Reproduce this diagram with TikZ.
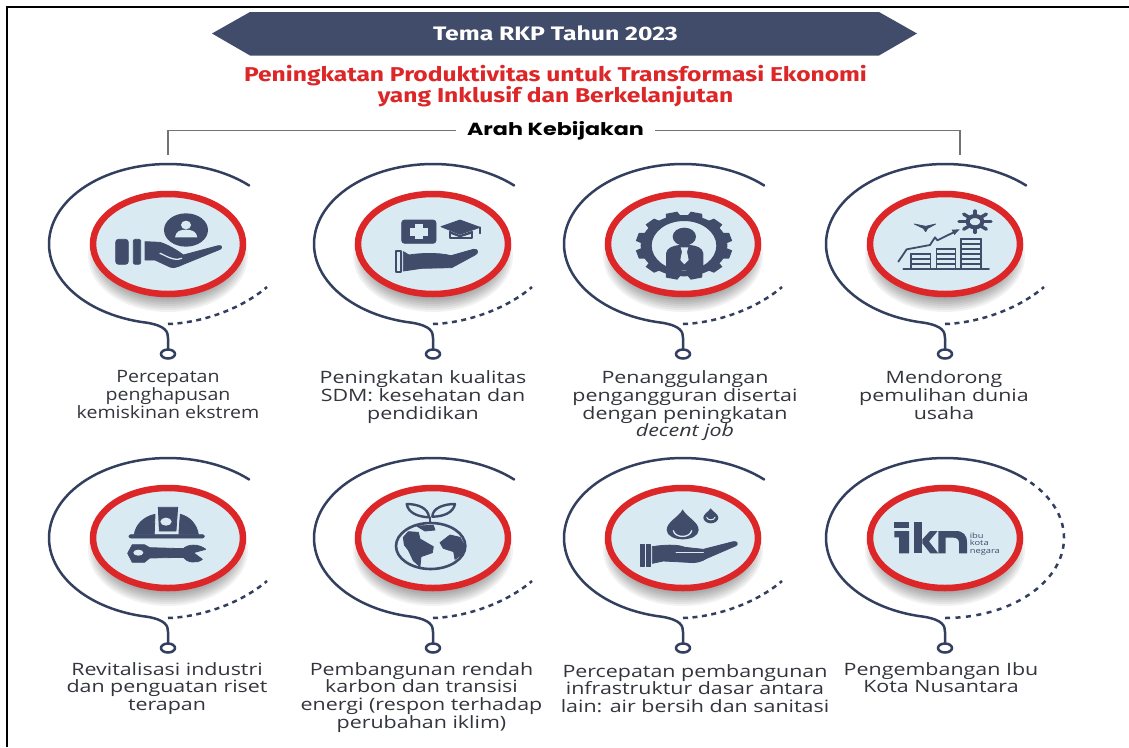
\documentclass[tikz,border=0pt]{standalone}
\usepackage{fontspec}
\setmainfont{Open Sans}[FakeStretch=1.26]
\newfontfamily\headfont{Fira Sans}[FakeStretch=1.23]
\newfontfamily\temafont{Fira Sans}[FakeStretch=1.27]
\newfontfamily\arahfont{Poppins}[FakeStretch=1.27]
\newfontfamily\narrowfont{Open Sans}[FakeStretch=1.15]
\usetikzlibrary{shapes.geometric}
\definecolor{navy}{HTML}{414C6B}
\definecolor{arcnavy}{HTML}{333F5E}
\definecolor{kbred}{HTML}{DC2627}
\definecolor{pale}{HTML}{DAEAF2}
\definecolor{bodytxt}{HTML}{33353D}
\tikzset{
  x=1pt,y=-1pt,
  disc/.style={ellipse,draw=kbred,line width=6.5pt,fill=pale,minimum width=150pt,minimum height=100pt,inner sep=0pt},
  pin/.style={ellipse,draw=arcnavy,line width=2.5pt,fill=white,minimum width=14pt,minimum height=9pt,inner sep=0pt},
  spiral/.style={draw=arcnavy,line width=2.5pt,line cap=round},
  dots/.style={draw=arcnavy,line width=2.5pt,dash pattern=on 5pt off 4.5pt},
  caption/.style={anchor=north,align=center,text=bodytxt,font=\fontsize{17}{17.7}\selectfont,inner sep=0pt},
  ink/.style={fill=navy,draw=navy,line width=0.8pt,line join=round},
  inkline/.style={draw=navy,line width=1.8pt,line cap=round,line join=round},
  paper/.style={fill=pale},
  paperline/.style={draw=pale,line width=1.3pt,line cap=round},
  leader/.style={draw=black!55,line width=1.4pt},
  icon/.style={shift={#1},scale=1/3},
}
\newcommand{\kbshadow}[2]{%
  \foreach \i in {0,...,13}{\fill[black,opacity=0.05] (#1,#2+12) ellipse[x radius={80-2*\i},y radius={56-2*\i}];}}
\newcommand{\kbunit}[3]{%
  \kbshadow{#2}{#3}
  \node[disc] (#1) at (#2,#3) {};
  \node[pin] (#1p) at (#2,#3+110) {};
  \coordinate (#1d) at (#2,#3+80);
  \draw[spiral] plot[domain=47:260,samples=70] ({#2+119*cos(\x)},{#3-80*sin(\x)})
    .. controls (#2-2,#3+82) and (#2,#3+88) .. (#2,#3+94) -- (#1p.north);
}
\newcommand{\kbtail}[3]{%
  \draw[dots] (#1d) .. controls (#2+32,#3+79) and (#2+72,#3+66) .. (#2+99,#3+43);
}
\begin{document}
\begin{tikzpicture}
\useasboundingbox (0,0) rectangle (1129,747);
\fill[white] (0,0) rectangle (1129,747);
\coordinate (fa) at (7,747); \coordinate (fb) at (7,7); \coordinate (fc) at (1129,7);
\draw[black,line width=1.5pt] (fa) -- (fb) -- (fc);
\fill[navy] (212,33.5) -- (250,12) -- (879,12) -- (917,33.5) -- (879,55.5) -- (250,55.5) -- cycle;
\node[text=white,font=\temafont\bfseries\fontsize{19.5}{20}\selectfont,inner sep=0pt] (tema) at (555.5,33.5) {Tema RKP Tahun 2023};
\node[text=kbred,align=center,font=\headfont\bfseries\fontsize{20}{20.5}\selectfont,inner sep=0pt] (judul) at (555.5,86) {Peningkatan Produktivitas untuk Transformasi Ekonomi\\yang Inklusif dan Berkelanjutan};
\node[font=\arahfont\bfseries\fontsize{17.5}{18}\selectfont,inner xsep=11pt,inner ysep=0pt] (arah) at (555.5,130.5) {Arah Kebijakan};
\coordinate (la) at (168,155); \coordinate (lb) at (960,155);
\draw[leader] (arah.west) -| (la);
\draw[leader] (arah.east) -| (lb);
\kbunit{a}{168}{244}\kbunit{b}{433}{244}\kbunit{c}{683}{244}\kbunit{d}{945}{244}
\kbunit{e}{168}{538}\kbunit{f}{433}{538}\kbunit{g}{683}{538}\kbunit{h}{945}{538}
\kbtail{a}{168}{244}\kbtail{b}{433}{244}\kbtail{c}{683}{244}\kbtail{d}{945}{244}
\kbtail{e}{168}{538}\kbtail{f}{433}{538}\kbtail{g}{683}{538}
\draw[dots,dash pattern=on 5pt off 5.5pt] plot[domain=-90:45,samples=70] ({945+119*cos(\x)},{538-80*sin(\x)});
\node[caption,font=\narrowfont\fontsize{17}{17.7}\selectfont] (ta) at (168,370.5) {Percepatan\\penghapusan\\kemiskinan ekstrem};
\node[caption] (tb) at (423,370.5) {Peningkatan kualitas\\SDM: kesehatan dan\\pendidikan};
\node[caption] (tc) at (685,370.5) {Penanggulangan\\pengangguran disertai\\dengan peningkatan\\\textit{decent job}};
\node[caption] (td) at (944,370.5) {Mendorong\\pemulihan dunia\\usaha};
\node[caption] (te) at (167,662) {Revitalisasi industri\\dan penguatan riset\\terapan};
\node[caption] (tf) at (421.5,662) {Pembangunan rendah\\karbon dan transisi\\energi (respon terhadap\\perubahan iklim)};
\node[caption] (tg) at (695,664) {Percepatan pembangunan\\infrastruktur dasar antara\\lain: air bersih dan sanitasi};
\node[caption] (th) at (941,662) {Pengembangan Ibu\\Kota Nusantara};
% icon 1
\begin{scope}[icon={(105,205)}]
  \fill[navy] (243,75) ellipse[x radius=66,y radius=50];
  \fill[paper] (243,60) ellipse[x radius=15,y radius=13];
  \fill[paper] (210,97) .. controls (212,78) and (228,74) .. (243,74) .. controls (258,74) and (275,78) .. (277,97) -- cycle;
  \fill[ink,rounded corners=3pt] (32,103) rectangle (70,178);
  \fill[ink,rounded corners=2pt] (85,103) rectangle (107,178);
  \fill[ink] (120,110) -- (165,112) .. controls (190,120) and (215,135) .. (235,150) -- (340,122) .. controls (352,120) and (352,130) .. (345,133) -- (235,178) .. controls (215,187) and (205,190) .. (195,186) -- (150,165) -- (120,165) -- cycle;
  \draw[paperline] (165,145) .. controls (180,150) and (205,170) .. (230,160);
\end{scope}
% icon 2
\begin{scope}[icon={(375,205)}]
  \fill[ink,rounded corners=3pt] (80,45) rectangle (183,115);
  \fill[paper] (105,68) rectangle (158,92);
  \fill[paper] (119,57) rectangle (143,103);
  \fill[ink] (198,65) -- (255,45) -- (315,67) -- (255,88) -- cycle;
  \draw[inkline] (225,80) -- (225,99) -- (290,99) -- (290,80);
  \fill[navy] (225,78) -- (255,90) -- (290,78) -- (290,86) -- (255,97) -- (225,86) -- cycle;
  \draw[inkline] (315,67) -- (315,85);
  \draw[inkline] (64,138) -- (64,200) -- (78,200) -- (78,138) -- cycle;
  \fill[ink] (85,140) -- (102,150) .. controls (130,145) and (190,142) .. (228,152) -- (295,133) .. controls (310,130) and (312,145) .. (300,150) -- (230,188) -- (140,190) -- (85,198) -- cycle;
\end{scope}
% icon 3
\begin{scope}[icon={(620,205)}]
  \fill[navy,even odd rule] (192,122) ellipse[x radius=130,y radius=92] (192,122) ellipse[x radius=97,y radius=74];
  \foreach \a in {15,45,...,345}{
    \fill[navy] ({192+125*cos(\a-11)},{122+88*sin(\a-11)}) -- ({192+146*cos(\a-7)},{122+103*sin(\a-7)}) -- ({192+146*cos(\a+7)},{122+103*sin(\a+7)}) -- ({192+125*cos(\a+11)},{122+88*sin(\a+11)}) -- cycle;
  }
  \fill[navy] (193,95) ellipse[x radius=35,y radius=27];
  \fill[navy] (138,195) -- (138,145) .. controls (140,128) and (160,122) .. (178,120) -- (210,120) .. controls (230,122) and (248,128) .. (250,145) -- (250,195) -- cycle;
  \fill[paper] (182,127) -- (205,127) -- (201,140) -- (206,165) -- (193,178) -- (181,165) -- (186,140) -- cycle;
\end{scope}
% icon 4
\begin{scope}[icon={(885,205)}]
  \draw[navy,line width=4pt] (270,50) ellipse[x radius=22,y radius=17];
  \foreach \a in {0,45,...,315}{
    \draw[navy,line width=3.4pt,line cap=round] ({270+24*cos(\a)},{50+18*sin(\a)}) -- ({270+48*cos(\a)},{50+32*sin(\a)});
  }
  \fill[ink] (88,57) -- (122,64) -- (152,57) -- (128,70) -- (122,80) -- (115,70) -- cycle;
  \draw[inkline] (40,170) -- (65,133) -- (135,120) -- (150,97) -- (157,106) -- (210,80);
  \fill[navy] (224,73) -- (200,74) -- (208,90) -- cycle;
  \draw[inkline] (55,192) -- (312,192);
  \foreach \l/\r/\t in {78/137/145,155/212/130,228/288/100}{
    \draw[inkline,line width=1.4pt] (\l,192) -- (\l,\t) -- (\r,\t) -- (\r,192);
    \fill[navy] (\l,\t) rectangle (\r,\t+6);
    \foreach \yy in {15,30,45,60,75}{
      \pgfmathparse{\t+\yy<185?1:0}
      \ifnum\pgfmathresult=1 \fill[navy] (\l,\t+\yy) rectangle (\r,\t+\yy+6);\fi
    }
  }
\end{scope}
% icon 5
\begin{scope}[icon={(105,500)}]
  \fill[ink] (88,103) .. controls (92,75) and (115,50) .. (150,43) -- (148,95) -- (148,103) -- cycle;
  \fill[ink] (280,103) .. controls (276,75) and (255,50) .. (226,43) -- (222,95) -- (222,103) -- cycle;
  \fill[ink] (160,22) -- (218,22) -- (213,93) -- (163,93) -- cycle;
  \fill[paper] (183,65) ellipse[x radius=17,y radius=12];
  \fill[ink,rounded corners=2pt] (72,104) rectangle (298,114);
  \fill[ink] (82,134) -- (118,134) -- (134,143) -- (235,146) .. controls (248,133) and (280,130) .. (302,148) -- (265,158) -- (292,178) .. controls (275,192) and (245,187) .. (235,172) -- (134,174) -- (118,187) -- (82,187) -- (68,160) -- cycle;
  \fill[paper] (100,158) ellipse[x radius=15,y radius=9];
\end{scope}
% icon 6
\begin{scope}[icon={(375,500)}]
  \draw[navy,line width=2.6pt] (167,138) ellipse[x radius=104,y radius=69];
  \fill[ink] (85,112) -- (100,95) -- (130,97) -- (135,117) -- (175,140) -- (172,158) -- (138,170) -- (135,200) -- (115,182) -- (100,150) -- (88,135) -- cycle;
  \fill[ink] (125,78) -- (175,76) -- (180,90) -- (150,93) -- cycle;
  \fill[ink] (195,128) -- (225,105) -- (255,112) -- (268,135) -- (265,160) -- (240,178) -- (236,155) -- (205,145) -- cycle;
  \draw[navy,line width=2.4pt,line join=round] (162,52) .. controls (130,50) and (100,40) .. (95,12) .. controls (130,12) and (160,25) .. (162,52) -- cycle;
  \draw[navy,line width=2.4pt,line join=round] (172,50) .. controls (172,25) and (205,12) .. (240,12) .. controls (235,38) and (205,50) .. (172,50) -- cycle;
  \draw[inkline] (166,52) -- (166,68);
\end{scope}
% icon 7
\begin{scope}[icon={(620,500)}]
  \fill[navy] (188,28) .. controls (178,50) and (140,65) .. (140,90) .. controls (140,108) and (165,118) .. (188,118) .. controls (212,118) and (236,108) .. (236,90) .. controls (236,65) and (198,50) .. (188,28) -- cycle;
  \draw[paperline] (160,92) .. controls (165,115) and (210,115) .. (215,92);
  \fill[navy] (272,25) .. controls (266,35) and (250,42) .. (250,53) .. controls (250,63) and (262,70) .. (272,70) .. controls (284,70) and (295,63) .. (295,53) .. controls (295,42) and (278,35) .. (272,25) -- cycle;
  \draw[paperline,line width=1pt] (260,52) .. controls (263,62) and (282,62) .. (285,52);
  \fill[ink] (60,132) rectangle (72,198);
  \fill[ink] (80,132) rectangle (90,198);
  \fill[ink] (97,140) .. controls (130,135) and (170,132) .. (195,142) -- (250,148) -- (340,125) .. controls (352,123) and (355,132) .. (348,137) -- (260,175) .. controls (245,185) and (225,190) .. (205,187) -- (130,183) -- (97,190) -- cycle;
  \draw[paperline,line width=1pt] (168,156) -- (250,156);
\end{scope}
% icon 8
\begin{scope}[icon={(885,500)}]
  \fill[navy] (28,65) -- (72,65) -- (72,85) -- (28,85) -- cycle;
  \fill[navy] (28,93) -- (72,93) -- (72,160) -- (42,160) -- (42,112) -- (28,112) -- cycle;
  \fill[navy] (88,65) -- (112,65) -- (112,160) -- (88,160) -- cycle;
  \fill[navy] (112,118) -- (135,93) -- (158,93) -- (132,124) -- (160,160) -- (136,160) -- (112,130) -- cycle;
  \fill[navy] (160,93) -- (212,93) .. controls (235,93) and (246,105) .. (246,128) -- (246,160) -- (222,160) -- (222,128) .. controls (222,118) and (215,113) .. (205,113) -- (182,113) -- (182,160) -- (160,160) -- cycle;
  \node[anchor=west,align=left,text=navy,inner sep=0pt,font=\fontsize{7.4}{7.3}\selectfont] (iknt) at (254,132) {ibu\\kota\\negara};
\end{scope}
\end{tikzpicture}
\end{document}
